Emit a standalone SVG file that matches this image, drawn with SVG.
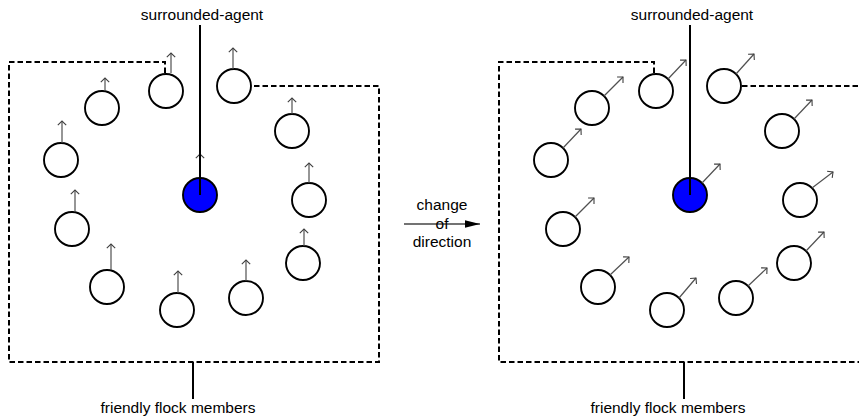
<svg xmlns="http://www.w3.org/2000/svg" width="859" height="419" viewBox="0 0 859 419">
  <style>
    .agent { fill: #ffffff; stroke: #000000; stroke-width: 1.9; }
    .self { fill: #0000ff; stroke: #000000; stroke-width: 1.9; }
    .heading { stroke: #505050; stroke-width: 1.2; fill: none; marker-end: url(#open-head); }
    .group-edge { fill: none; stroke: #000000; stroke-width: 2; stroke-dasharray: 5.5 3; }
    .leader { stroke: #000000; stroke-width: 2; fill: none; }
    .label { font-family: "Liberation Sans", Arial, sans-serif; font-size: 15.5px; fill: #000000; text-anchor: middle; }
  </style>
  <defs>
    <marker id="open-head" viewBox="-6 -5 7 10" refX="0" refY="0" markerWidth="7" markerHeight="10" markerUnits="userSpaceOnUse" orient="auto">
      <path d="M-4.2,-4.2 L0,0 L-4.2,4.2" fill="none" stroke="#404040" stroke-width="1.1"/>
    </marker>
    <marker id="solid-head" viewBox="0 -5 15 10" refX="15" refY="0" markerWidth="15" markerHeight="10" markerUnits="userSpaceOnUse" orient="auto">
      <path d="M0,-3.8 L15,0 L0,3.8 Z" fill="#000000"/>
    </marker>
  </defs>

  <!-- flock boundaries and the transition arrow -->
  <g id="connectors">
    <!-- before: group outline -->
    <path class="group-edge" d="M165,73 V62 H9 V362 H379 V86 H252"/>
    <!-- after: group outline -->
    <path class="group-edge" d="M654,73 V62 H499 V362 H859"/>
    <path class="group-edge" d="M742,86 H859"/>

    <!-- transition arrow -->
    <line x1="404" y1="224" x2="480" y2="224" stroke="#444444" stroke-width="1.3" marker-end="url(#solid-head)"/>
  </g>

  <!-- before: everyone heading north -->
  <g id="before">
    <g id="b1"><circle class="agent" cx="166" cy="91" r="17"/><line class="heading" x1="171" y1="73" x2="171" y2="53"/></g>
    <g id="b2"><circle class="agent" cx="102" cy="108" r="17"/><line class="heading" x1="105" y1="91" x2="105" y2="78"/></g>
    <g id="b3"><circle class="agent" cx="61" cy="160" r="17"/><line class="heading" x1="62" y1="143" x2="62" y2="121"/></g>
    <g id="b4"><circle class="agent" cx="234" cy="86" r="17"/><line class="heading" x1="233" y1="69" x2="233" y2="48"/></g>
    <g id="b5"><circle class="agent" cx="292" cy="131" r="17"/><line class="heading" x1="292" y1="114" x2="292" y2="98"/></g>
    <g id="b6"><circle class="agent" cx="309" cy="200" r="17"/><line class="heading" x1="309" y1="183" x2="309" y2="163"/></g>
    <g id="b7"><circle class="agent" cx="72" cy="229" r="17"/><line class="heading" x1="75" y1="212" x2="75" y2="190"/></g>
    <g id="b8"><circle class="agent" cx="107" cy="287" r="17"/><line class="heading" x1="111" y1="270" x2="111" y2="244"/></g>
    <g id="b9"><circle class="agent" cx="177" cy="310" r="17"/><line class="heading" x1="178" y1="293" x2="178" y2="271"/></g>
    <g id="b10"><circle class="agent" cx="246" cy="298" r="17"/><line class="heading" x1="246" y1="281" x2="246" y2="260"/></g>
    <g id="b11"><circle class="agent" cx="303" cy="263" r="17"/><line class="heading" x1="304" y1="246" x2="304" y2="229"/></g>
    <g id="b-self"><line class="heading" x1="200" y1="178" x2="200" y2="154"/><circle class="self" cx="200" cy="195" r="17"/></g>
  </g>

  <!-- after: everyone heading north-east -->
  <g id="after">
    <g id="a1"><circle class="agent" cx="656" cy="91" r="17"/><line class="heading" x1="668" y1="79" x2="686" y2="60"/></g>
    <g id="a2"><circle class="agent" cx="592" cy="108" r="17"/><line class="heading" x1="604" y1="96" x2="623" y2="77"/></g>
    <g id="a3"><circle class="agent" cx="551" cy="160" r="17"/><line class="heading" x1="563" y1="148" x2="581" y2="129"/></g>
    <g id="a4"><circle class="agent" cx="724" cy="86" r="17"/><line class="heading" x1="736" y1="74" x2="754" y2="54"/></g>
    <g id="a5"><circle class="agent" cx="782" cy="131" r="17"/><line class="heading" x1="794" y1="119" x2="812" y2="100"/></g>
    <g id="a6"><circle class="agent" cx="800" cy="200" r="17"/><line class="heading" x1="812" y1="188" x2="833" y2="172"/></g>
    <g id="a7"><circle class="agent" cx="563" cy="229" r="17"/><line class="heading" x1="575" y1="217" x2="594" y2="198"/></g>
    <g id="a8"><circle class="agent" cx="598" cy="287" r="17"/><line class="heading" x1="610" y1="275" x2="629" y2="257"/></g>
    <g id="a9"><circle class="agent" cx="667" cy="310" r="17"/><line class="heading" x1="679" y1="298" x2="696" y2="278"/></g>
    <g id="a10"><circle class="agent" cx="736" cy="298" r="17"/><line class="heading" x1="748" y1="286" x2="767" y2="268"/></g>
    <g id="a11"><circle class="agent" cx="794" cy="263" r="17"/><line class="heading" x1="806" y1="251" x2="824" y2="232"/></g>
    <g id="a-self"><circle class="self" cx="690" cy="195" r="17"/><line class="heading" x1="702" y1="183" x2="720" y2="164"/></g>
  </g>

  <!-- annotations -->
  <g id="label-surrounded-before">
    <text class="label" x="202" y="20">surrounded-agent</text>
    <line class="leader" x1="200" y1="25" x2="200" y2="195"/>
  </g>
  <g id="label-flock-before">
    <line class="leader" x1="193" y1="362" x2="193" y2="399"/>
    <text class="label" x="178" y="413">friendly flock members</text>
  </g>
  <g id="label-surrounded-after">
    <text class="label" x="692" y="20">surrounded-agent</text>
    <line class="leader" x1="690" y1="25" x2="690" y2="195"/>
  </g>
  <g id="label-flock-after">
    <line class="leader" x1="684" y1="362" x2="684" y2="399"/>
    <text class="label" x="668" y="413">friendly flock members</text>
  </g>
  <g id="label-change">
    <text class="label" x="442" y="210">change</text>
    <text class="label" x="442" y="228.5">of</text>
    <text class="label" x="442" y="247">direction</text>
  </g>
</svg>
